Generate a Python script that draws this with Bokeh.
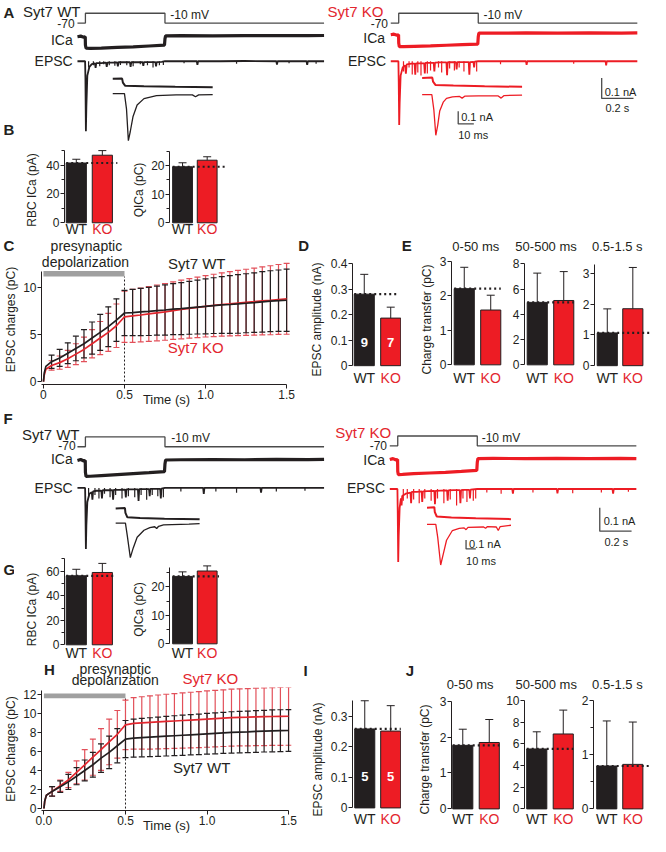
import math
from bokeh.plotting import figure
from bokeh.models import Range1d, Label, FixedTicker, Spacer
from bokeh.layouts import row, column
from bokeh.embed import file_html
from bokeh.resources import INLINE

# ======================= DATA =======================
GROUPS = ["WT", "KO"]

# command voltage (s, mV)
VOLT_T = [-0.05, 0.0, 0.0, 0.5, 0.5, 1.5]
VOLT_MV = [-70, -70, -10, -10, -70, -70]

# ---- A, Syt7 WT example (s, nA) ----
A_WT_ICA_T = [-0.05, -0.03, -0.01, -0.001, 0.0, 0.004, 0.03, 0.1, 0.2, 0.3, 0.4, 0.497, 0.5, 0.504, 0.6, 0.8, 1.0, 1.2, 1.4, 1.5]
A_WT_ICA = [0.0, 0.003, -0.002, 0.0, -0.04, -0.056, -0.057, -0.055, -0.052, -0.049, -0.045, -0.041, -0.01, 0.004, 0.005, 0.004, 0.005, 0.006, 0.005, 0.006]
A_WT_EPSC_T = [-0.05, -0.002, 0.0, 0.003, 0.006, 0.012, 0.025, 0.04, 0.06, 0.064, 0.068, 0.1, 0.13, 0.134, 0.138, 0.17, 0.2, 0.204, 0.208, 0.24, 0.28, 0.284, 0.288, 0.33, 0.36, 0.364, 0.368, 0.41, 0.44, 0.444, 0.448, 0.48, 0.5, 0.56, 0.7, 0.704, 0.708, 0.85, 1.0, 1.2, 1.204, 1.208, 1.35, 1.39, 1.394, 1.398, 1.5]
A_WT_EPSC = [0, 0, -0.08, -0.34, -0.22, -0.07, -0.027, -0.014, -0.011, -0.032, -0.009, -0.009, -0.007, -0.027, -0.007, -0.007, -0.006, -0.025, -0.005, -0.005, -0.005, -0.027, -0.005, -0.005, -0.005, -0.022, -0.004, -0.004, -0.004, -0.025, -0.004, -0.003, 0.0, 0.0, 0.0, -0.018, 0.0, 0.0, 0.001, 0.0, -0.016, 0.0, 0.0, 0.0, -0.018, 0.0, 0.0]
A_WT_SPK_T = [0.02, 0.05, 0.09, 0.115, 0.15, 0.185, 0.22, 0.26, 0.3, 0.345, 0.39, 0.425, 0.465, 0.49, 0.62, 0.95, 1.28, 1.45]
A_WT_SPK = [-0.03, -0.02, -0.025, -0.015, -0.02, -0.022, -0.018, -0.02, -0.025, -0.015, -0.02, -0.03, -0.02, -0.018, -0.01, -0.012, -0.01, -0.012]
A_WT_IN_ICA_T = [0, 6.0, 6.5, 8.0, 20, 40, 64]          # ms
A_WT_IN_ICA = [0.0, 0.002, -0.03, -0.055, -0.058, -0.062, -0.065]
A_WT_IN_EPSC_T = [0, 7.5, 8.8, 10.0, 11.2, 13.0, 15.6, 20, 28, 40.6, 51, 53, 55, 64]
A_WT_IN_EPSC = [0, 0, -0.12, -0.37, -0.3, -0.18, -0.09, -0.04, -0.017, -0.01, -0.01, -0.025, -0.01, -0.008]

# ---- A, Syt7 KO example ----
A_KO_ICA_T = [-0.05, -0.03, -0.01, -0.001, 0.0, 0.004, 0.03, 0.1, 0.2, 0.3, 0.4, 0.497, 0.5, 0.504, 0.6, 0.8, 1.0, 1.2, 1.4, 1.5]
A_KO_ICA = [0.0, 0.003, -0.002, 0.0, -0.04, -0.058, -0.058, -0.056, -0.054, -0.051, -0.048, -0.045, -0.01, 0.008, 0.008, 0.009, 0.008, 0.009, 0.008, 0.009]
A_KO_EPSC_T = [-0.05, -0.002, 0.0, 0.003, 0.006, 0.012, 0.025, 0.04, 0.045, 0.05, 0.08, 0.1, 0.104, 0.108, 0.13, 0.16, 0.164, 0.168, 0.2, 0.22, 0.224, 0.228, 0.26, 0.3, 0.304, 0.308, 0.33, 0.36, 0.364, 0.368, 0.4, 0.44, 0.444, 0.448, 0.47, 0.474, 0.478, 0.5, 0.6, 0.8, 0.804, 0.808, 1.0, 1.2, 1.3, 1.304, 1.308, 1.5]
A_KO_EPSC = [0, 0, -0.1, -0.31, -0.2, -0.07, -0.03, -0.02, -0.06, -0.015, -0.012, -0.012, -0.065, -0.01, -0.01, -0.01, -0.06, -0.008, -0.008, -0.008, -0.05, -0.007, -0.006, -0.006, -0.068, -0.005, -0.005, -0.005, -0.04, -0.004, -0.004, -0.004, -0.065, -0.004, -0.003, -0.03, -0.002, 0.0, 0.0, 0.0, -0.018, 0.0, 0.0, 0.0, 0.0, -0.02, 0.0, 0.0]
A_KO_SPK_T = [0.03, 0.065, 0.085, 0.12, 0.14, 0.18, 0.2, 0.25, 0.27, 0.32, 0.35, 0.38, 0.41, 0.49, 0.64, 1.1]
A_KO_SPK = [-0.05, -0.03, -0.065, -0.055, -0.07, -0.06, -0.045, -0.03, -0.055, -0.035, -0.045, -0.03, -0.05, -0.05, -0.015, -0.012]
A_KO_IN_ICA_T = [0, 6.5, 7.0, 8.5, 20, 40, 64]
A_KO_IN_ICA = [0.0, 0.002, -0.03, -0.055, -0.06, -0.066, -0.07]
A_KO_IN_EPSC_T = [0, 6.2, 7.5, 8.75, 10, 11.25, 13.5, 15.6, 19.4, 24, 25.6, 27.5, 36, 48.5, 50.6, 52.5, 64]
A_KO_IN_EPSC = [0, 0, -0.12, -0.32, -0.24, -0.13, -0.06, -0.03, -0.018, -0.015, -0.028, -0.012, -0.01, -0.01, -0.028, -0.008, -0.005]

# ---- F, Syt7 WT example ----
F_WT_ICA_T = [-0.05, -0.03, -0.01, -0.001, 0.0, 0.004, 0.03, 0.1, 0.2, 0.3, 0.4, 0.497, 0.5, 0.504, 0.6, 0.8, 1.0, 1.2, 1.4, 1.5]
F_WT_ICA = [0.0, 0.004, -0.002, 0.0, -0.05, -0.068, -0.067, -0.064, -0.06, -0.056, -0.052, -0.047, -0.015, 0.002, 0.003, 0.004, 0.003, 0.005, 0.004, 0.005]
F_WT_EPSC_T = [-0.05, -0.002, 0.0, 0.003, 0.006, 0.012, 0.025, 0.04, 0.044, 0.048, 0.07, 0.1, 0.104, 0.108, 0.14, 0.17, 0.174, 0.178, 0.21, 0.25, 0.254, 0.258, 0.29, 0.33, 0.334, 0.338, 0.37, 0.4, 0.404, 0.408, 0.44, 0.47, 0.474, 0.478, 0.5, 0.58, 0.7, 0.74, 0.744, 0.748, 0.9, 1.05, 1.1, 1.104, 1.108, 1.3, 1.45, 1.5]
F_WT_EPSC = [0, 0, -0.08, -0.26, -0.16, -0.06, -0.025, -0.018, -0.05, -0.015, -0.012, -0.012, -0.045, -0.01, -0.01, -0.009, -0.05, -0.008, -0.008, -0.007, -0.04, -0.006, -0.006, -0.006, -0.055, -0.005, -0.005, -0.005, -0.035, -0.004, -0.004, -0.004, -0.045, -0.003, 0.0, 0.0, 0.0, 0.0, -0.025, 0.0, 0.0, 0.0, 0.0, -0.02, 0.0, 0.0, 0.0, 0.0]
F_WT_SPK_T = [0.02, 0.06, 0.085, 0.12, 0.155, 0.19, 0.23, 0.27, 0.31, 0.35, 0.385, 0.42, 0.455, 0.49, 0.6, 0.82, 0.95, 1.2, 1.38]
F_WT_SPK = [-0.04, -0.03, -0.045, -0.025, -0.04, -0.03, -0.045, -0.035, -0.04, -0.03, -0.05, -0.03, -0.035, -0.04, -0.015, -0.015, -0.02, -0.015, -0.012]
F_WT_IN_ICA_T = [0, 9.5, 10, 12, 25, 50, 86]
F_WT_IN_ICA = [0.0, 0.005, -0.05, -0.1, -0.108, -0.115, -0.122]
F_WT_IN_EPSC_T = [0, 10, 12, 15, 18, 22, 29, 35, 40, 42, 44, 49, 75, 86]
F_WT_IN_EPSC = [0, 0, -0.15, -0.39, -0.28, -0.16, -0.08, -0.05, -0.04, -0.06, -0.035, -0.02, -0.01, -0.005]

# ---- F, Syt7 KO example ----
F_KO_ICA_T = [-0.05, -0.03, -0.01, -0.001, 0.0, 0.004, 0.03, 0.1, 0.2, 0.3, 0.4, 0.497, 0.5, 0.504, 0.6, 0.8, 1.0, 1.2, 1.4, 1.5]
F_KO_ICA = [0.0, 0.004, -0.002, 0.0, -0.05, -0.064, -0.063, -0.06, -0.057, -0.054, -0.05, -0.046, -0.012, 0.004, 0.005, 0.004, 0.005, 0.004, 0.005, 0.004]
F_KO_EPSC_T = [-0.05, -0.002, 0.0, 0.003, 0.006, 0.012, 0.02, 0.024, 0.028, 0.05, 0.08, 0.084, 0.088, 0.12, 0.15, 0.154, 0.158, 0.19, 0.23, 0.234, 0.238, 0.27, 0.31, 0.314, 0.318, 0.35, 0.39, 0.394, 0.398, 0.42, 0.45, 0.454, 0.458, 0.5, 0.6, 0.72, 0.724, 0.728, 0.9, 1.0, 1.004, 1.008, 1.2, 1.35, 1.354, 1.358, 1.5]
F_KO_EPSC = [0, 0, -0.1, -0.31, -0.2, -0.08, -0.04, -0.07, -0.03, -0.02, -0.015, -0.06, -0.012, -0.012, -0.01, -0.055, -0.01, -0.009, -0.008, -0.065, -0.008, -0.007, -0.006, -0.05, -0.006, -0.005, -0.005, -0.06, -0.005, -0.004, -0.004, -0.04, -0.003, 0.0, 0.0, 0.0, -0.02, 0.0, 0.0, 0.0, -0.018, 0.0, 0.0, 0.0, -0.02, 0.0, 0.0]
F_KO_SPK_T = [0.035, 0.06, 0.1, 0.135, 0.17, 0.21, 0.25, 0.29, 0.33, 0.37, 0.41, 0.435, 0.475, 0.49, 0.56, 0.65, 0.85, 1.1, 1.28, 1.45]
F_KO_SPK = [-0.05, -0.04, -0.045, -0.06, -0.04, -0.05, -0.04, -0.06, -0.045, -0.07, -0.04, -0.055, -0.05, -0.04, -0.015, -0.02, -0.015, -0.018, -0.015, -0.012]
F_KO_IN_ICA_T = [0, 7.5, 8, 10, 25, 50, 86]
F_KO_IN_ICA = [0.0, 0.005, -0.05, -0.1, -0.11, -0.12, -0.13]
F_KO_IN_EPSC_T = [0, 9, 11, 14, 17, 20, 26, 33, 38, 40, 42, 58, 60, 62, 71, 73, 75, 86]
F_KO_IN_EPSC = [0, 0, -0.15, -0.46, -0.32, -0.18, -0.07, -0.045, -0.04, -0.06, -0.035, -0.03, -0.045, -0.025, -0.03, -0.07, -0.025, -0.01]

# ---- bar charts (mean, error) ----
B_RBC_ICA = [41.4, 46.8];  B_RBC_ICA_ERR = [2.6, 3.2]
B_QICA = [19.6, 21.9];     B_QICA_ERR = [1.4, 1.2]
D_AMP = [0.281, 0.187];    D_AMP_ERR = [0.078, 0.043];  D_N = ["9", "7"]
E_0_50 = [2.21, 1.59];     E_0_50_ERR = [0.62, 0.43]
E_50_500 = [4.95, 5.1];    E_50_500_ERR = [2.32, 2.29]
E_05_15 = [1.065, 1.85];   E_05_15_ERR = [0.78, 1.34]
G_RBC_ICA = [56.3, 59.0];  G_RBC_ICA_ERR = [5.3, 7.4]
G_QICA = [23.7, 25.6];     G_QICA_ERR = [1.6, 1.8]
I_AMP = [0.258, 0.251];    I_AMP_ERR = [0.092, 0.083];  I_N = ["5", "5"]
J_0_50 = [1.77, 1.85];     J_0_50_ERR = [0.45, 0.64]
J_50_500 = [5.52, 6.9];    J_50_500_ERR = [1.58, 2.2]
J_05_15 = [0.79, 0.82];    J_05_15_ERR = [0.83, 0.78]

# ---- cumulative EPSC charge (s, pC) ----
CUM_T = [0, 0.005, 0.015, 0.05, 0.1, 0.15, 0.2, 0.25, 0.3, 0.35, 0.4, 0.45, 0.5, 0.55, 0.6, 0.65, 0.7, 0.75, 0.8, 0.85, 0.9, 0.95, 1.0, 1.05, 1.1, 1.15, 1.2, 1.25, 1.3, 1.35, 1.4, 1.45, 1.5]
ERR_T = CUM_T[3:]
C_WT = [0, 0.9, 1.6, 2.1, 2.5, 3.0, 3.5, 4.0, 4.6, 5.2, 5.8, 6.5, 7.25, 7.3, 7.36, 7.42, 7.5, 7.57, 7.66, 7.72, 7.8, 7.88, 7.95, 8.03, 8.1, 8.15, 8.21, 8.28, 8.35, 8.43, 8.5, 8.55, 8.6]
C_KO = [0, 0.7, 1.3, 1.7, 2.0, 2.4, 2.9, 3.4, 4.0, 4.6, 5.2, 5.9, 6.85, 6.95, 7.04, 7.15, 7.26, 7.37, 7.5, 7.62, 7.74, 7.85, 7.96, 8.05, 8.15, 8.22, 8.31, 8.38, 8.45, 8.53, 8.6, 8.68, 8.75]
C_WT_ERR = [0.7, 0.9, 1.1, 1.3, 1.5, 1.7, 1.9, 2.1, 2.25, 2.4, 2.45, 2.5, 2.55, 2.6, 2.65, 2.7, 2.75, 2.8, 2.85, 2.9, 2.95, 3.0, 3.05, 3.1, 3.12, 3.15, 3.2, 3.22, 3.25, 3.3]
C_KO_ERR = [0.5, 0.7, 0.9, 1.1, 1.3, 1.5, 1.75, 2.0, 2.3, 2.7, 2.8, 2.85, 2.9, 2.95, 3.0, 3.05, 3.1, 3.15, 3.2, 3.25, 3.3, 3.35, 3.4, 3.45, 3.5, 3.55, 3.6, 3.65, 3.7, 3.75]
H_WT = [0, 0.8, 1.4, 1.8, 2.3, 2.8, 3.4, 4.0, 4.6, 5.3, 5.9, 6.6, 7.3, 7.4, 7.45, 7.5, 7.55, 7.6, 7.65, 7.7, 7.75, 7.8, 7.85, 7.9, 7.95, 8.0, 8.03, 8.06, 8.1, 8.13, 8.16, 8.18, 8.2]
H_KO = [0, 0.8, 1.4, 1.8, 2.4, 3.0, 3.8, 4.6, 5.4, 6.2, 7.0, 7.8, 8.8, 8.95, 9.0, 9.05, 9.1, 9.15, 9.2, 9.25, 9.3, 9.35, 9.4, 9.45, 9.5, 9.55, 9.58, 9.6, 9.63, 9.65, 9.67, 9.69, 9.7]
H_WT_ERR = [0.5, 0.6, 0.8, 0.9, 1.1, 1.3, 1.5, 1.7, 1.8, 1.95, 2.0, 2.02, 2.04, 2.06, 2.08, 2.1, 2.11, 2.12, 2.13, 2.14, 2.15, 2.16, 2.17, 2.18, 2.18, 2.19, 2.19, 2.2, 2.2, 2.2]
H_KO_ERR = [0.5, 0.6, 0.8, 1.2, 1.6, 1.9, 2.2, 2.4, 2.5, 2.6, 2.7, 2.75, 2.8, 2.83, 2.86, 2.88, 2.9, 2.92, 2.94, 2.96, 2.97, 2.98, 2.99, 3.0, 3.01, 3.02, 3.03, 3.04, 3.05, 3.05]
DEPOL = [0.0, 0.5]
TIME_TICKS = [0, 0.5, 1.0, 1.5]

# ======================= STYLE / LAYOUT =======================
FONT = "Liberation Sans"
BLK = "#231f20"
RED = "#ed1c24"
RED_T = "#e3262e"
RED_E = "#e2505a"
GREY = "#a0a0a0"
VGREY = "#4a4a4a"
BAR_W = 20.5
LETTER = 15

FX = 650 / 666
FY = 836 / 852


def PX(v):
    return int(round(v * FX))


def PY(v):
    return int(round(v * FY))


def rx(v0, x0, k, fl, fr):
    return Range1d(v0 - (x0 - fl) / k, v0 + (fr - x0) / k)


def ry(v0, y0, k, ft, fb):
    return Range1d(v0 - (fb - y0) / k, v0 + (y0 - ft) / k)


def mkfig(box, frame, xr, yr, xaxis=False, yaxis=False):
    L, T, R, B = box
    fl, ft, fr, fb = frame
    p = figure(width=PX(R) - PX(L), height=PY(B) - PY(T), x_range=xr, y_range=yr,
               x_axis_location="below" if xaxis else None,
               y_axis_location="left" if yaxis else None,
               min_border=0,
               min_border_left=PX(fl) - PX(L), min_border_right=PX(R) - PX(fr),
               min_border_top=PY(ft) - PY(T), min_border_bottom=PY(B) - PY(fb),
               output_backend="svg", toolbar_location=None)
    p.outline_line_color = None
    p.grid.visible = False
    p.background_fill_color = "white"
    p.border_fill_color = "white"
    p.extra_x_ranges = {"px": Range1d(fl, fr)}
    p.extra_y_ranges = {"py": Range1d(fb, ft)}
    return p


def header(box):
    L, T, R, B = box
    return mkfig(box, box, Range1d(L, R), Range1d(B, T))


def txt(p, x, y, s, size=12, color=BLK, align="center", baseline="middle", bold=False, angle=0.0):
    p.add_layout(Label(x=x, y=y, text=s, x_range_name="px", y_range_name="py",
                       text_font=FONT, text_font_size=f"{size}px", text_color=color,
                       text_align=align, text_baseline=baseline,
                       text_font_style="bold" if bold else "normal", angle=angle))


def style_axis(ax, ticks, labels, minor=(), title="", standoff=5, title_size=12):
    ax.ticker = FixedTicker(ticks=list(ticks), minor_ticks=list(minor))
    ax.major_label_overrides = {t: l for t, l in zip(ticks, labels)}
    ax.axis_line_color = BLK
    ax.axis_line_width = 1
    ax.major_tick_line_color = BLK
    ax.minor_tick_line_color = BLK
    ax.major_tick_in = 0
    ax.major_tick_out = 4
    ax.minor_tick_in = 0
    ax.minor_tick_out = 3
    ax.major_label_standoff = 1
    ax.major_label_text_font = FONT
    ax.major_label_text_font_size = "12px"
    ax.major_label_text_color = BLK
    if title:
        ax.axis_label = title
        ax.axis_label_standoff = standoff
        ax.axis_label_text_font = FONT
        ax.axis_label_text_font_size = f"{title_size}px"
        ax.axis_label_text_font_style = "normal"
        ax.axis_label_text_color = BLK


def bar_chart(box, fl, fr, y0, k, ymax, ticks, labels, minor, vals, errs, c0, c1, ext,
              ytitle, standoff, wtko_y, nums=None, nums_y=None):
    L, T, R, B = box
    fb = min(B, wtko_y + 8)
    unit = c1 - c0
    p = mkfig(box, (fl, T, fr, fb), rx(0, c0, unit, fl, fr), ry(0, y0, k, T, fb), yaxis=True)
    ax = p.yaxis[0]
    style_axis(ax, ticks, labels, minor, ytitle, standoff)
    ax.bounds = (0, ymax)
    bw = BAR_W / unit
    xs = [0, 1]
    p.vbar(x=xs, top=vals, bottom=0, width=bw, fill_color=[BLK, RED], line_color=BLK, line_width=1)
    tops = [v + e for v, e in zip(vals, errs)]
    p.segment(x0=xs, y0=vals, x1=xs, y1=tops, line_color=BLK, line_width=1)
    p.scatter(xs, tops, marker="dash", size=8, line_color=BLK, line_width=1)
    p.line([-bw / 2, 1 + bw / 2 + ext / unit], [vals[0], vals[0]], line_color=BLK,
           line_width=2.2, line_dash="2 3")
    txt(p, c0, wtko_y, GROUPS[0], size=14)
    txt(p, c1, wtko_y, GROUPS[1], size=14, color=RED_T)
    if nums:
        txt(p, c0, nums_y, nums[0], size=13, color="white", bold=True)
        txt(p, c1, nums_y, nums[1], size=13, color="white", bold=True)
    return p


def trace_panel(box, color, t0x, v_hi, v_lo, ica0, ep0, k_na, in0x, k_ms, in_ica0, in_ep0, k_in,
                ica_t, ica, ep_t, ep, spk_t, spk, iica_t, iica, iep_t, iep, extra_y=None):
    L, T, R, B = box
    p = mkfig(box, box, Range1d(L, R), Range1d(B, T))
    xr = dict(p.extra_x_ranges)
    yr = dict(p.extra_y_ranges)
    xr["t"] = rx(0, t0x, 163.0, L, R)
    xr["ms"] = rx(0, in0x, k_ms, L, R)
    yr["v"] = ry(-70, v_lo, (v_lo - v_hi) / 60.0, T, B)
    yr["ica"] = ry(0, ica0, k_na, T, B)
    yr["ep"] = ry(0, ep0, k_na, T, B)
    yr["iica"] = ry(0, in_ica0, k_in, T, B)
    yr["iep"] = ry(0, in_ep0, k_in, T, B)
    if extra_y:
        for name, (y0, kk) in extra_y.items():
            yr[name] = ry(0, y0, kk, T, B)
    p.extra_x_ranges = xr
    p.extra_y_ranges = yr
    p.line(VOLT_T, VOLT_MV, x_range_name="t", y_range_name="v", line_color=VGREY, line_width=1.3)
    p.line(ica_t, ica, x_range_name="t", y_range_name="ica", line_color=color, line_width=3.2)
    p.line(ep_t, ep, x_range_name="t", y_range_name="ep", line_color=color, line_width=1.8)
    p.segment(x0=spk_t, y0=[0] * len(spk_t), x1=spk_t, y1=spk, x_range_name="t", y_range_name="ep",
              line_color=color, line_width=1.2)
    p.line(iica_t, iica, x_range_name="ms", y_range_name="iica", line_color=color, line_width=2.0)
    p.line(iep_t, iep, x_range_name="ms", y_range_name="iep", line_color=color, line_width=1.3)
    return p


def cum_chart(box, frame, x0, kx, y0, ky, yticks, ylabels, ytop, xlabels, wt, ko, wt_e, ko_e, bar_y,
              ystand, xstand):
    fl, ft, fr, fb = frame
    xr = rx(0, x0, kx, fl, fr)
    yr = ry(0, y0, ky, ft, fb)
    p = mkfig(box, frame, xr, yr, xaxis=True, yaxis=True)
    style_axis(p.yaxis[0], yticks, ylabels, (), "EPSC charges (pC)", ystand)
    p.yaxis[0].bounds = (0, ytop)
    style_axis(p.xaxis[0], TIME_TICKS, xlabels, (), "Time (s)", xstand, 13)
    p.xaxis[0].bounds = (xr.start, 1.5)
    p.quad(left=[DEPOL[0]], right=[DEPOL[1]], bottom=[bar_y[0]], top=[bar_y[1]],
           fill_color=GREY, line_color=None)
    p.line([DEPOL[1], DEPOL[1]], [0, bar_y[0]], line_color=BLK, line_width=1, line_dash="2 2")
    for mean, err, col in ((ko, ko_e, RED_E), (wt, wt_e, BLK)):
        m = mean[3:]
        lo = [a - b for a, b in zip(m, err)]
        hi = [a + b for a, b in zip(m, err)]
        p.segment(x0=ERR_T, y0=lo, x1=ERR_T, y1=hi, line_color=col, line_width=1.2)
        p.scatter(ERR_T, lo, marker="dash", size=6, line_color=col, line_width=1.2)
        p.scatter(ERR_T, hi, marker="dash", size=6, line_color=col, line_width=1.2)
    p.line(CUM_T, ko, line_color=RED_T, line_width=1.7)
    p.line(CUM_T, wt, line_color=BLK, line_width=1.7)
    return p


# ======================= ROW A =======================
a_wt = trace_panel((0, 0, 334, 146), BLK, 87, 13, 23, 37, 62, 210, 115, 1.6, 80, 95, 130,
                   A_WT_ICA_T, A_WT_ICA, A_WT_EPSC_T, A_WT_EPSC, A_WT_SPK_T, A_WT_SPK,
                   A_WT_IN_ICA_T, A_WT_IN_ICA, A_WT_IN_EPSC_T, A_WT_IN_EPSC)
txt(a_wt, 3, 12, "A", size=LETTER, bold=True, align="left")
txt(a_wt, 23, 11, "Syt7 WT", size=15, align="left")
txt(a_wt, 76, 23, "-70", size=12, align="right")
txt(a_wt, 174, 15, "-10 mV", size=12, align="left")
txt(a_wt, 74, 40, "ICa", size=14, align="right")
txt(a_wt, 74, 62, "EPSC", size=14, align="right")
txt(a_wt, 3, 132, "B", size=LETTER, bold=True, align="left")

a_ko = trace_panel((334, 0, 666, 146), RED, 408, 13, 23, 35, 62, 210, 432, 1.6, 79, 96, 130,
                   A_KO_ICA_T, A_KO_ICA, A_KO_EPSC_T, A_KO_EPSC, A_KO_SPK_T, A_KO_SPK,
                   A_KO_IN_ICA_T, A_KO_IN_ICA, A_KO_IN_EPSC_T, A_KO_IN_EPSC,
                   extra_y={"sb": (100, 210), "isb": (126, 130)})
a_ko.line([1.276, 1.276, 1.476], [0.1, 0, 0], x_range_name="t", y_range_name="sb", line_color=VGREY, line_width=1.3)
a_ko.line([23.1, 23.1, 33.1], [0.1, 0, 0], x_range_name="ms", y_range_name="isb", line_color=VGREY, line_width=1.3)
txt(a_ko, 335, 11, "Syt7 KO", size=15, color=RED_T, align="left")
txt(a_ko, 397, 23, "-70", size=12, align="right")
txt(a_ko, 495, 15, "-10 mV", size=12, align="left")
txt(a_ko, 394, 38, "ICa", size=14, align="right")
txt(a_ko, 395, 62, "EPSC", size=14, align="right")
txt(a_ko, 619, 93, "0.1 nA", size=11, align="left")
txt(a_ko, 632, 110, "0.2 s", size=11)
txt(a_ko, 472, 119, "0.1 nA", size=11, align="left")
txt(a_ko, 469, 137, "10 ms", size=11, align="left")

# ======================= ROW B =======================
b1 = bar_chart((0, 146, 124, 241), 66, 124, 227, 1.475, 50, [0, 20, 40], ["0", "20", "40"], [10, 30, 50],
               B_RBC_ICA, B_RBC_ICA_ERR, 78, 104.5, 5, "RBC ICa (pA)", 4, 233)
b2 = bar_chart((124, 146, 240, 241), 173, 232, 227, 2.92, 25, [0, 10, 20], ["0", "10", "20"], [5, 15, 25],
               B_QICA, B_QICA_ERR, 186.5, 212, 8, "QICa (pC)", 2, 233)

# ======================= ROW C/D/E =======================
head_c = header((0, 241, 666, 259))
txt(head_c, 3, 250, "C", size=LETTER, bold=True, align="left")
txt(head_c, 88, 250.5, "presynaptic", size=14)
txt(head_c, 305, 250, "D", size=LETTER, bold=True, align="left")
txt(head_c, 411, 250, "E", size=LETTER, bold=True, align="left")
txt(head_c, 487, 251, "0-50 ms", size=13)
txt(head_c, 559, 251, "50-500 ms", size=13)
txt(head_c, 632, 251, "0.5-1.5 s", size=13)

c = cum_chart((0, 259, 305, 417), (42, 259, 298, 391), 44, 166, 388, 9.6,
              [0, 5, 10], ["0", "5", "10"], 11.6, ["0", "0.5", "1.0", "1.5"],
              C_WT, C_KO, C_WT_ERR, C_KO_ERR, (11.1, 11.7), 2, -10)
txt(c, 87, 267, "depolarization", size=14)
txt(c, 201, 268, "Syt7 WT", size=15)
txt(c, 200, 353, "Syt7 KO", size=15, color=RED_T)

d = bar_chart((305, 259, 411, 417), 361, 411, 389, 297.5, 0.4, [0, 0.1, 0.2, 0.3, 0.4],
              ["0", "0.1", "0.2", "0.3", "0.4"], [], D_AMP, D_AMP_ERR, 373, 400, -2,
              "EPSC amplitude (nA)", 4, 403, nums=D_N, nums_y=362)
e1 = bar_chart((411, 259, 515, 417), 462, 514, 388, 40.3, 3, [0, 1, 2, 3], ["0", "1", "2", "3"], [],
               E_0_50, E_0_50_ERR, 475, 502, 0, "Charge transfer (pC)", 3, 403)
e2 = bar_chart((515, 259, 591, 417), 537, 590, 388, 14.75, 8, [0, 2, 4, 6, 8], ["0", "2", "4", "6", "8"], [],
               E_50_500, E_50_500_ERR, 550, 577, 0, "", 0, 403)
e3 = bar_chart((591, 259, 666, 417), 609, 666, 389, 36, 3.28, [0, 1, 2, 3], ["0", "1", "2", "3"], [],
               E_05_15, E_05_15_ERR, 622, 648, 7, "", 0, 403)

# ======================= ROW F/G =======================
f_wt = trace_panel((0, 417, 334, 569), BLK, 87, 445, 455, 469, 497, 240, 118, 1.0, 518, 533, 90,
                   F_WT_ICA_T, F_WT_ICA, F_WT_EPSC_T, F_WT_EPSC, F_WT_SPK_T, F_WT_SPK,
                   F_WT_IN_ICA_T, F_WT_IN_ICA, F_WT_IN_EPSC_T, F_WT_IN_EPSC)
txt(f_wt, 3, 426, "F", size=LETTER, bold=True, align="left")
txt(f_wt, 22, 442, "Syt7 WT", size=15, align="left")
txt(f_wt, 77, 454, "-70", size=12, align="right")
txt(f_wt, 175, 446, "-10 mV", size=12, align="left")
txt(f_wt, 74, 468, "ICa", size=14, align="right")
txt(f_wt, 74, 497, "EPSC", size=14, align="right")

f_ko = trace_panel((334, 417, 666, 580), RED, 407, 444, 454, 468, 498, 240, 437, 1.0, 517, 534, 90,
                   F_KO_ICA_T, F_KO_ICA, F_KO_EPSC_T, F_KO_EPSC, F_KO_SPK_T, F_KO_SPK,
                   F_KO_IN_ICA_T, F_KO_IN_ICA, F_KO_IN_EPSC_T, F_KO_IN_EPSC,
                   extra_y={"sb": (541, 240), "isb": (559, 90)})
f_ko.line([1.27, 1.27, 1.47], [0.1, 0, 0], x_range_name="t", y_range_name="sb", line_color=VGREY, line_width=1.3)
f_ko.line([40, 40, 50], [0.1, 0, 0], x_range_name="ms", y_range_name="isb", line_color=VGREY, line_width=1.3)
txt(f_ko, 343, 440, "Syt7 KO", size=15, color=RED_T, align="left")
txt(f_ko, 396, 454, "-70", size=12, align="right")
txt(f_ko, 493, 446, "-10 mV", size=12, align="left")
txt(f_ko, 394, 468, "ICa", size=14, align="right")
txt(f_ko, 394, 497, "EPSC", size=14, align="right")
txt(f_ko, 618, 531, "0.1 nA", size=11, align="left")
txt(f_ko, 631, 552, "0.2 s", size=11)
txt(f_ko, 480, 554, "0.1 nA", size=11, align="left")
txt(f_ko, 477, 571, "10 ms", size=11, align="left")

g_head = header((0, 569, 14, 673))
txt(g_head, 3, 580, "G", size=LETTER, bold=True, align="left")
g1 = bar_chart((14, 569, 124, 673), 66, 124, 657, 1.25, 70, [0, 20, 40, 60], ["0", "20", "40", "60"],
               [10, 30, 50, 70], G_RBC_ICA, G_RBC_ICA_ERR, 78, 104.5, 3, "RBC ICa (pA)", 4, 665)
g2 = bar_chart((124, 569, 240, 673), 173, 232, 656, 2.9, 27, [0, 10, 20], ["0", "10", "20"], [5, 15, 25],
               G_QICA, G_QICA_ERR, 186.5, 212, 2, "QICa (pC)", 2, 665)

# ======================= ROW H/I/J =======================
head_h = header((0, 673, 305, 700))
txt(head_h, 3, 682, "H", size=LETTER, bold=True, align="left")
txt(head_h, 90, 681, "presynaptic", size=14)
txt(head_h, 90, 692, "depolarization", size=14)
txt(head_h, 206, 691, "Syt7 KO", size=15, color=RED_T)

h = cum_chart((0, 700, 305, 852), (42, 700, 298, 825), 44.5, 167, 823, 9.67,
              [0, 2, 4, 6, 8, 10, 12], ["0", "2", "4", "6", "8", "10", "12"], 12.4,
              ["0.0", "0.5", "1.0", "1.5"], H_WT, H_KO, H_WT_ERR, H_KO_ERR, (11.6, 12.1), 2, -10)
txt(h, 206, 781, "Syt7 WT", size=15)

head_ij = header((305, 673, 666, 705))
txt(head_ij, 310, 683, "I", size=LETTER, bold=True, align="left")
txt(head_ij, 415, 683, "J", size=LETTER, bold=True, align="left")
txt(head_ij, 481, 697, "0-50 ms", size=13)
txt(head_ij, 559, 697, "50-500 ms", size=13)
txt(head_ij, 632, 697, "0.5-1.5 s", size=13)

i_ = bar_chart((305, 705, 411, 852), 361, 411, 823, 313, 0.35, [0, 0.1, 0.2, 0.3],
               ["0", "0.1", "0.2", "0.3"], [], I_AMP, I_AMP_ERR, 373.5, 400, 0,
               "EPSC amplitude (nA)", 3, 834, nums=I_N, nums_y=791)
j1 = bar_chart((411, 705, 515, 852), 462, 514, 824, 36.7, 3, [0, 1, 2, 3], ["0", "1", "2", "3"], [],
               J_0_50, J_0_50_ERR, 473.5, 500.5, 0, "Charge transfer (pC)", 5, 834)
j2 = bar_chart((515, 705, 591, 852), 537, 590, 824, 11.1, 10, [0, 2, 4, 6, 8, 10],
               ["0", "2", "4", "6", "8", "10"], [], J_50_500, J_50_500_ERR, 549.5, 576.5, 0, "", 0, 834)
j3 = bar_chart((591, 705, 666, 852), 608, 666, 824, 55.5, 2, [0, 1, 2], ["0", "1", "2"], [0.5, 1.5],
               J_05_15, J_05_15_ERR, 621.5, 648, 7, "", 0, 834)

# ======================= ASSEMBLE =======================
spacer = Spacer(width=PX(666) - PX(334), height=PY(673) - PY(580))
layout = column(
    row(a_wt, a_ko),
    row(b1, b2),
    column(head_c, row(c, d, e1, e2, e3)),
    row(column(f_wt, row(g_head, g1, g2)), column(f_ko, spacer)),
    row(column(head_h, h), column(head_ij, row(i_, j1, j2, j3))),
)

open("out.html", "w").write(file_html(layout, INLINE))
